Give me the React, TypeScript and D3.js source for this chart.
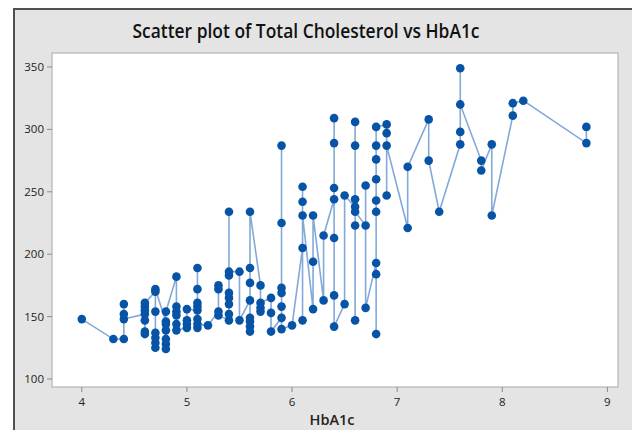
import React from 'react'
import * as d3 from 'd3'

// HbA1c levels and the cholesterol readings at each level, in plotting order
const hba1cLevels = [4.0, 4.3, 4.4, 4.6, 4.7, 4.8, 4.9, 5.0, 5.1, 5.2, 5.3, 5.4, 5.5, 5.6, 5.7, 5.8, 5.9, 6.0,
  6.1, 6.2, 6.3, 6.4, 6.5, 6.6, 6.7, 6.8, 6.9, 7.1, 7.3, 7.4, 7.6, 7.8, 7.9, 8.1, 8.2, 8.8]
const cholesterolByLevel = [
  [148],
  [132],
  [132, 160, 152, 148],
  [152, 136, 138, 147, 155, 158, 161],
  [170, 125, 129, 133, 137, 154, 172],
  [146, 144, 139, 132, 128, 124, 154],
  [182, 158, 154, 151, 144, 139],
  [141, 144, 147, 156],
  [155, 189, 172, 161, 158, 148, 141, 144],
  [143],
  [154, 175, 172, 151],
  [147, 152, 160, 165, 169, 183, 234, 186],
  [186, 147],
  [163, 138, 142, 146, 149, 177, 189, 234],
  [175, 154, 157, 161],
  [165, 153, 138],
  [149, 287, 225, 173, 169, 158, 140],
  [143],
  [205, 147, 254, 242, 231],
  [156, 194, 231],
  [163, 215],
  [244, 309, 289, 253, 213, 167, 142],
  [160, 247],
  [238, 306, 287, 244, 147, 223, 234],
  [223, 255, 157],
  [193, 136, 184, 234, 243, 260, 276, 287, 302],
  [304, 247, 297, 287],
  [221, 270],
  [308, 275],
  [234],
  [288, 298, 349, 320],
  [275, 267],
  [288, 231],
  [311, 321],
  [323],
  [289, 302],
]
const xTicks = [4, 5, 6, 7, 8, 9]
const yTicks = [100, 150, 200, 250, 300, 350]

const W = 632, H = 430
const left = 52, right = 618, top = 53, bottom = 387

export default function App() {
  const points: [number, number][] = []
  hba1cLevels.forEach((h, i) => cholesterolByLevel[i].forEach(c => points.push([h, c])))

  const x = d3.scaleLinear().domain([3.7165, 9.1008]).range([left, right])
  const y = d3.scaleLinear().domain([93.6, 361.2]).range([bottom, top])
  const line = d3.line<[number, number]>().x(d => x(d[0])).y(d => y(d[1]))

  const font = '"Open Sans", "Noto Sans", sans-serif'

  return (
    <svg width={W} height={H} style={{ position: 'absolute', left: 0, top: 0 }} fontFamily={font}>
      <rect x={0} y={0} width={W} height={H} fill="#fff" />
      <rect x={14} y={9} width={W} height={H} fill="#e4e4e4" />
      <line x1={14} y1={9} x2={W} y2={9} stroke="#505050" strokeWidth={2} />
      <line x1={14} y1={8} x2={14} y2={H} stroke="#505050" strokeWidth={2} />

      <text x={306} y={38} textAnchor="middle" fontSize={19} fontWeight={600} fill="#111"
        textLength={347} lengthAdjust="spacingAndGlyphs">Scatter plot of Total Cholesterol vs HbA1c</text>

      <rect x={left} y={top} width={right - left} height={bottom - top} fill="#fff" stroke="#a8a8a8" strokeWidth={1} />

      {yTicks.map(t => (
        <g key={'y' + t}>
          <line x1={left - 5} x2={left} y1={y(t)} y2={y(t)} stroke="#8a8a8a" />
          <text x={left - 8} y={y(t) + 4} textAnchor="end" fontSize={11.5} fill="#222">{t}</text>
        </g>
      ))}
      {xTicks.map(t => (
        <g key={'x' + t}>
          <line x1={x(t)} x2={x(t)} y1={bottom} y2={bottom + 5} stroke="#8a8a8a" />
          <text x={x(t)} y={bottom + 19} textAnchor="middle" fontSize={11.5} fill="#222">{t}</text>
        </g>
      ))}

      <text x={332} y={425} textAnchor="middle" fontSize={15} fontWeight={600} fill="#222"
        textLength={45} lengthAdjust="spacingAndGlyphs">HbA1c</text>

      <path d={line(points) || ''} fill="none" stroke="#82a9d9" strokeWidth={1.6} />
      {points.map((p, i) => (
        <circle key={i} cx={x(p[0])} cy={y(p[1])} r={4.3} fill="#0753a6" />
      ))}
    </svg>
  )
}
